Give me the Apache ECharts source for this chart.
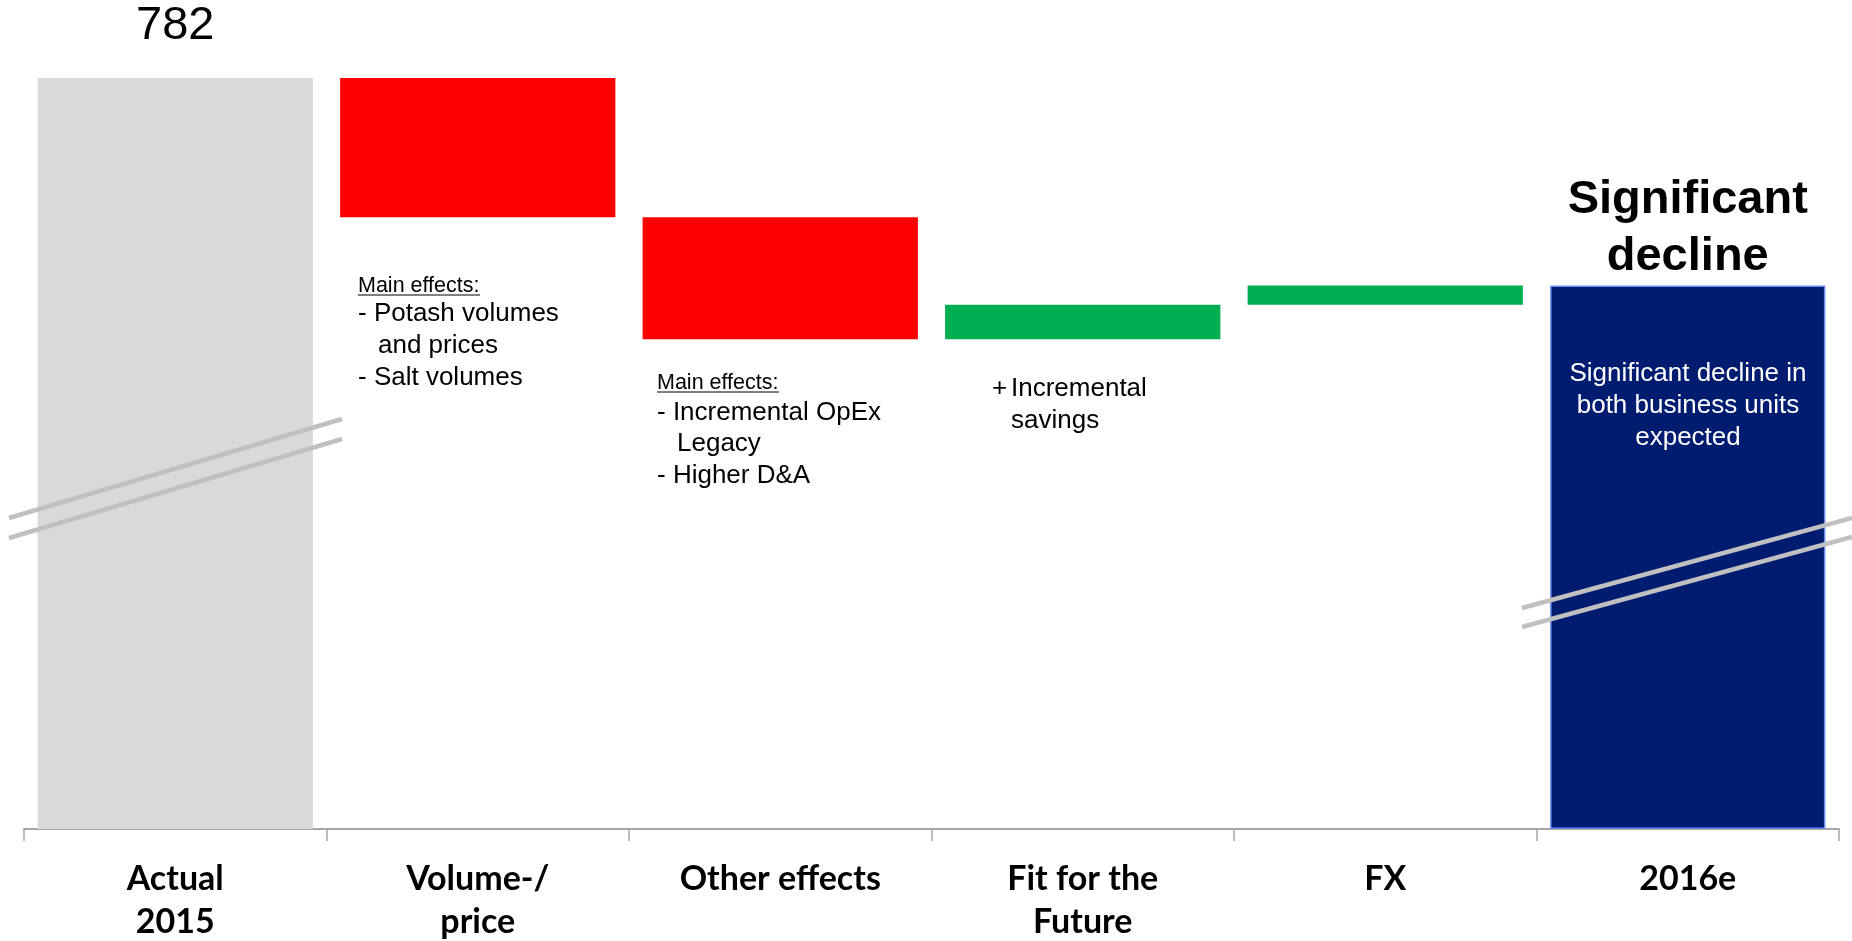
<!DOCTYPE html>
<html>
<head>
<meta charset="utf-8">
<script src="https://cdn.jsdelivr.net/npm/echarts@6/dist/echarts.min.js"></script>
<style>
  html, body { margin: 0; padding: 0; background: #ffffff; }
  #chart { width: 1852px; height: 941px; }
</style>
</head>
<body>
<div id="chart"></div>
<script>
// EBIT bridge 2015 -> 2016e
const categories = ['Actual\n2015', 'Volume-/\nprice', 'Other effects', 'Fit for the\nFuture', 'FX', '2016e'];
const startValue = 782;
const deltas = [-145, -127, 36, 20];           // Volume/price, Other effects, Fit for the Future, FX
const endValue = startValue + deltas.reduce((a, b) => a + b, 0);

const colors = {
  actual: '#D9D9D9',
  negative: '#FF0000',
  positive: '#00B050',
  forecast: '#001C71'
};

// Invisible base + visible step for the waterfall
const baseValues = [0];
const stepValues = [{ value: startValue, itemStyle: { color: colors.actual },
  label: { show: true, position: 'top', distance: 28, formatter: '{c}',
           fontFamily: 'Liberation Sans', fontSize: 47, lineHeight: 47, color: '#000' } }];
let running = startValue;
deltas.forEach(d => {
  if (d < 0) {
    baseValues.push(running + d);
    stepValues.push({ value: -d, itemStyle: { color: colors.negative } });
  } else {
    baseValues.push(running);
    stepValues.push({ value: d, itemStyle: { color: colors.positive } });
  }
  running += d;
});
baseValues.push(0);
stepValues.push({
  value: endValue,
  itemStyle: { color: colors.forecast, borderColor: '#6A8CF0', borderWidth: 1.5 },
  label: { show: true, position: 'top', distance: 0, formatter: 'Significant\ndecline',
           fontFamily: 'Liberation Sans', fontWeight: 'bold', fontSize: 47, lineHeight: 57, color: '#000' }
});

const chart = echarts.init(document.getElementById('chart'), null, { renderer: 'canvas' });

const bodyFont = '26px "Liberation Sans"';
const smallFont = '21.5px "Liberation Sans"';
function txt(text, x, y, font, fill, align) {
  return { type: 'text', z: 100, style: { text, x, y, font: font || bodyFont, fill: fill || '#000',
           align: align || 'left', verticalAlign: 'middle' } };
}
function line(x1, y1, x2, y2, stroke, w) {
  return { type: 'line', z: 100, shape: { x1, y1, x2, y2 }, style: { stroke, lineWidth: w } };
}
const breakGrey = '#C0C0C0';

chart.setOption({
  animation: false,
  grid: { left: 24, right: 13, top: 78, bottom: 112, outerBoundsMode: 'none', containLabel: false },
  xAxis: {
    type: 'category',
    data: categories,
    axisLine: { lineStyle: { color: '#A6A6A6', width: 2 } },
    axisTick: { show: true, length: 12, lineStyle: { color: '#A6A6A6', width: 1.5 } },
    axisLabel: { interval: 0, margin: 29, color: '#000', fontFamily: 'Lato', fontWeight: 'bold',
                 fontSize: 34, lineHeight: 43 }
  },
  yAxis: { type: 'value', min: 0, max: startValue, show: false, splitLine: { show: false } },
  series: [
    { type: 'bar', stack: 'bridge', barWidth: '91%', data: baseValues,
      itemStyle: { color: 'transparent' }, emphasis: { disabled: true }, silent: true },
    { type: 'bar', stack: 'bridge', barWidth: '91%', data: stepValues,
      emphasis: { disabled: true } }
  ],
  graphic: [
    // axis break markers
    line(9, 518, 342, 419, breakGrey, 4.5),
    line(9, 538, 342, 439, breakGrey, 4.5),
    line(1522, 608, 1852, 518, breakGrey, 4.5),
    line(1522, 627, 1852, 537, breakGrey, 4.5),
    // Volume-/price notes
    txt('Main effects:', 358, 286, smallFont),
    line(358, 295, 480, 295, '#000', 1.2),
    txt('- Potash volumes', 358, 314),
    txt('and prices', 378, 346),
    txt('- Salt volumes', 358, 378),
    // Other effects notes
    txt('Main effects:', 657, 383, smallFont),
    line(657, 392, 779, 392, '#000', 1.2),
    txt('- Incremental OpEx', 657, 413),
    txt('Legacy', 677, 444),
    txt('- Higher D&A', 657, 476),
    // Fit for the Future notes
    txt('+', 992, 389),
    txt('Incremental', 1011, 389),
    txt('savings', 1011, 421),
    // 2016e note
    txt('Significant decline in', 1688, 374, bodyFont, '#fff', 'center'),
    txt('both business units', 1688, 406, bodyFont, '#fff', 'center'),
    txt('expected', 1688, 438, bodyFont, '#fff', 'center')
  ]
});
</script>
</body>
</html>
